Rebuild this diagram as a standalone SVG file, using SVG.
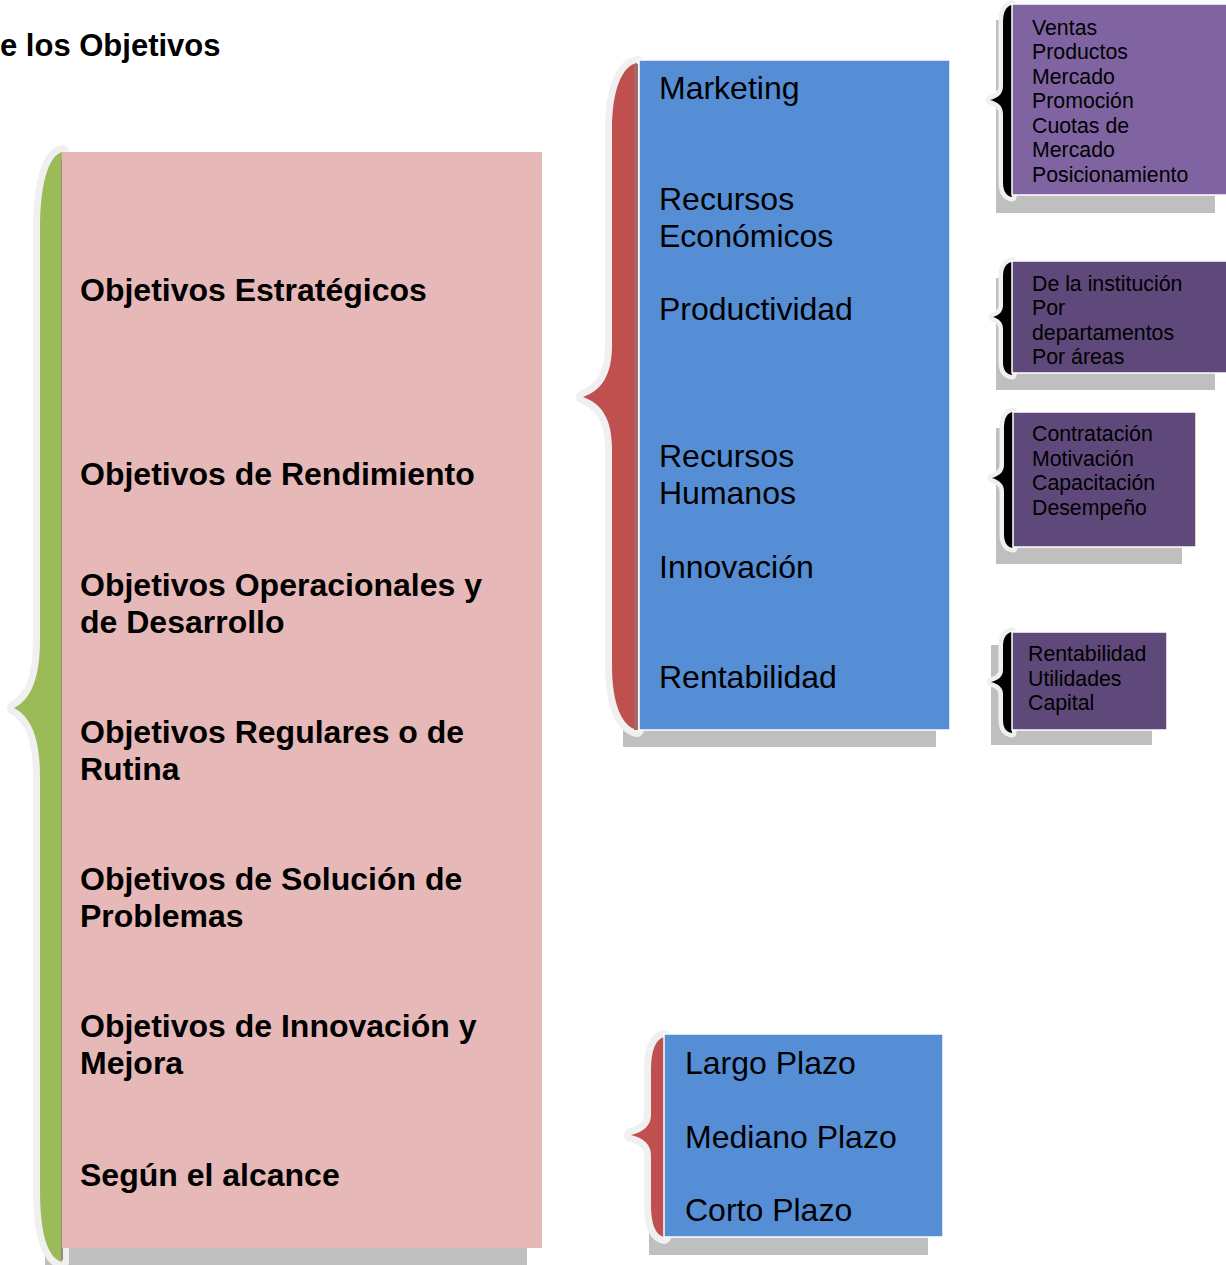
<svg xmlns="http://www.w3.org/2000/svg" width="1226" height="1265" viewBox="0 0 1226 1265">
  <style>
    .shadow { fill: #BFBFBF; }
    .pink { fill: #E6B9B8; }
    .blue { fill: #558ED5; stroke: #ffffff; stroke-width: 1.5; }
    .violet { fill: #8064A2; stroke: #ffffff; stroke-width: 1.5; }
    .plum { fill: #5F497A; stroke: #ffffff; stroke-width: 1.5; }
    .rim { fill: none; stroke: #F0F0F0; stroke-width: 14; stroke-linejoin: round; }
    .rim-s { fill: none; stroke: #F0F0F0; stroke-width: 9; stroke-linejoin: round; }
    .drop { fill: #8E6C6C; opacity: 0.55; }
    .green { fill: #9BBB59; }
    .red { fill: #C0504D; }
    .black { fill: #000000; }
    .bold { font-family: "Liberation Sans", Arial, sans-serif; font-weight: bold; font-size: 32px; fill: #000; }
    .big { font-family: "Liberation Sans", Arial, sans-serif; font-size: 32px; fill: #000; }
    .small { font-family: "Liberation Sans", Arial, sans-serif; font-size: 21.3px; fill: #000; }
  </style>

  <!-- heading -->
  <text class="bold" x="0" y="56" style="font-size:31px">e los Objetivos</text>

  <!-- drop shadows behind boxes -->
  <g id="shadows">
    <rect class="shadow" x="45" y="170" width="482" height="1095"/>
    <rect class="shadow" x="623" y="78" width="313" height="669"/>
    <rect class="shadow" x="649" y="1052" width="279" height="203"/>
    <rect class="shadow" x="996" y="20" width="219" height="193"/>
    <rect class="shadow" x="996" y="278" width="219" height="112"/>
    <rect class="shadow" x="996" y="428" width="186" height="136"/>
    <rect class="shadow" x="991" y="645" width="161" height="100"/>
  </g>

  <!-- braces linking each group to its detail box -->
  <g id="connectors">
    <!-- green brace: types of objectives -->
    <g id="brace-types">
      <path class="drop" transform="translate(3,4)" d="M 62 152 C 48 156, 40 185, 40 230 L 40 640 C 40 680, 30 700, 14 708 C 30 716, 40 736, 40 776 L 40 1190 C 40 1235, 48 1258, 62 1262 Z"/>
      <path class="rim" d="M 62 152 C 48 156, 40 185, 40 230 L 40 640 C 40 680, 30 700, 14 708 C 30 716, 40 736, 40 776 L 40 1190 C 40 1235, 48 1258, 62 1262 Z"/>
      <path class="green" d="M 62 152 C 48 156, 40 185, 40 230 L 40 640 C 40 680, 30 700, 14 708 C 30 716, 40 736, 40 776 L 40 1190 C 40 1235, 48 1258, 62 1262 Z"/>
      <rect x="61" y="160" width="2" height="1100" fill="#9A8A7A"/>
    </g>
    <!-- red brace: strategic areas -->
    <g id="brace-areas">
      <path class="drop" transform="translate(3,4)" d="M 637 63 C 622 66, 612 90, 612 130 L 612 345 C 612 375, 602 390, 583 397 C 602 404, 612 419, 612 449 L 612 665 C 612 705, 622 726, 637 730 Z"/>
      <path class="rim" d="M 637 63 C 622 66, 612 90, 612 130 L 612 345 C 612 375, 602 390, 583 397 C 602 404, 612 419, 612 449 L 612 665 C 612 705, 622 726, 637 730 Z"/>
      <path class="red" d="M 637 63 C 622 66, 612 90, 612 130 L 612 345 C 612 375, 602 390, 583 397 C 602 404, 612 419, 612 449 L 612 665 C 612 705, 622 726, 637 730 Z"/>
      <rect x="634" y="64" width="4" height="666" fill="#A56A68"/>
    </g>
    <!-- red brace: time range -->
    <g id="brace-range">
      <path class="drop" transform="translate(2,4)" d="M 664 1037 C 656 1039, 651 1050, 651 1070 L 651 1115 C 651 1126, 643 1132, 631 1135 C 643 1138, 651 1144, 651 1155 L 651 1205 C 651 1225, 656 1235, 664 1237 Z"/>
      <path class="rim" d="M 664 1037 C 656 1039, 651 1050, 651 1070 L 651 1115 C 651 1126, 643 1132, 631 1135 C 643 1138, 651 1144, 651 1155 L 651 1205 C 651 1225, 656 1235, 664 1237 Z"/>
      <path class="red" d="M 664 1037 C 656 1039, 651 1050, 651 1070 L 651 1115 C 651 1126, 643 1132, 631 1135 C 643 1138, 651 1144, 651 1155 L 651 1205 C 651 1225, 656 1235, 664 1237 Z"/>
    </g>
    <!-- black braces: detail lists -->
    <g id="brace-marketing">
      <path class="rim-s" d="M 1012 5 C 1006 6, 1003 12, 1003 22 L 1003 86 C 1003 94, 998 98, 990 100 C 998 102, 1003 106, 1003 114 L 1003 182 C 1003 191, 1006 196, 1012 197 Z"/>
      <path class="black" d="M 1012 5 C 1006 6, 1003 12, 1003 22 L 1003 86 C 1003 94, 998 98, 990 100 C 998 102, 1003 106, 1003 114 L 1003 182 C 1003 191, 1006 196, 1012 197 Z"/>
    </g>
    <g id="brace-productividad">
      <path class="rim-s" d="M 1012 262 C 1006 263, 1003 268, 1003 276 L 1003 305 C 1003 312, 999 315, 993 317 C 999 319, 1003 322, 1003 329 L 1003 362 C 1003 370, 1006 374, 1012 375 Z"/>
      <path class="black" d="M 1012 262 C 1006 263, 1003 268, 1003 276 L 1003 305 C 1003 312, 999 315, 993 317 C 999 319, 1003 322, 1003 329 L 1003 362 C 1003 370, 1006 374, 1012 375 Z"/>
    </g>
    <g id="brace-humanos">
      <path class="rim-s" d="M 1013 412 C 1007 413, 1004 418, 1004 428 L 1004 465 C 1004 472, 999 476, 992 478 C 999 480, 1004 484, 1004 491 L 1004 534 C 1004 543, 1007 547, 1013 548 Z"/>
      <path class="black" d="M 1013 412 C 1007 413, 1004 418, 1004 428 L 1004 465 C 1004 472, 999 476, 992 478 C 999 480, 1004 484, 1004 491 L 1004 534 C 1004 543, 1007 547, 1013 548 Z"/>
    </g>
    <g id="brace-rentabilidad">
      <path class="rim-s" d="M 1012 632 C 1006 633, 1003 638, 1003 646 L 1003 670 C 1003 677, 998 680, 991 682 C 998 684, 1003 687, 1003 694 L 1003 720 C 1003 728, 1006 732, 1012 733 Z"/>
      <path class="black" d="M 1012 632 C 1006 633, 1003 638, 1003 646 L 1003 670 C 1003 677, 998 680, 991 682 C 998 684, 1003 687, 1003 694 L 1003 720 C 1003 728, 1006 732, 1012 733 Z"/>
    </g>
  </g>

  <!-- types of objectives -->
  <g id="node-types">
    <rect class="pink" x="62" y="152" width="480" height="1096"/>
    <text class="bold" x="80" y="301">Objetivos Estratégicos</text>
    <text class="bold" x="80" y="485">Objetivos de Rendimiento</text>
    <text class="bold" x="80" y="596">Objetivos Operacionales y</text>
    <text class="bold" x="80" y="633">de Desarrollo</text>
    <text class="bold" x="80" y="743">Objetivos Regulares o de</text>
    <text class="bold" x="80" y="780">Rutina</text>
    <text class="bold" x="80" y="890">Objetivos de Solución de</text>
    <text class="bold" x="80" y="927">Problemas</text>
    <text class="bold" x="80" y="1037">Objetivos de Innovación y</text>
    <text class="bold" x="80" y="1074">Mejora</text>
    <text class="bold" x="80" y="1186">Según el alcance</text>
  </g>

  <!-- strategic areas -->
  <g id="node-areas">
    <rect class="blue" x="639" y="60" width="311" height="670"/>
    <text class="big" x="659" y="99">Marketing</text>
    <text class="big" x="659" y="210">Recursos</text>
    <text class="big" x="659" y="247">Económicos</text>
    <text class="big" x="659" y="320">Productividad</text>
    <text class="big" x="659" y="467">Recursos</text>
    <text class="big" x="659" y="504">Humanos</text>
    <text class="big" x="659" y="578">Innovación</text>
    <text class="big" x="659" y="688">Rentabilidad</text>
  </g>

  <!-- time range -->
  <g id="node-range">
    <rect class="blue" x="664" y="1034" width="279" height="203"/>
    <text class="big" x="685" y="1074">Largo Plazo</text>
    <text class="big" x="685" y="1148">Mediano Plazo</text>
    <text class="big" x="685" y="1221">Corto Plazo</text>
  </g>

  <!-- detail lists -->
  <g id="node-marketing">
    <rect class="violet" x="1012" y="4" width="220" height="191"/>
    <text class="small" x="1032" y="35">Ventas</text>
    <text class="small" x="1032" y="59">Productos</text>
    <text class="small" x="1032" y="84">Mercado</text>
    <text class="small" x="1032" y="108">Promoción</text>
    <text class="small" x="1032" y="133">Cuotas de</text>
    <text class="small" x="1032" y="157">Mercado</text>
    <text class="small" x="1032" y="182">Posicionamiento</text>
  </g>

  <g id="node-productividad">
    <rect class="plum" x="1012" y="261" width="220" height="112"/>
    <text class="small" x="1032" y="291">De la institución</text>
    <text class="small" x="1032" y="315">Por</text>
    <text class="small" x="1032" y="340">departamentos</text>
    <text class="small" x="1032" y="364">Por áreas</text>
  </g>

  <g id="node-humanos">
    <rect class="plum" x="1013" y="412" width="183" height="135"/>
    <text class="small" x="1032" y="441">Contratación</text>
    <text class="small" x="1032" y="466">Motivación</text>
    <text class="small" x="1032" y="490">Capacitación</text>
    <text class="small" x="1032" y="515">Desempeño</text>
  </g>

  <g id="node-rentabilidad">
    <rect class="plum" x="1012" y="632" width="155" height="98"/>
    <text class="small" x="1028" y="661">Rentabilidad</text>
    <text class="small" x="1028" y="686">Utilidades</text>
    <text class="small" x="1028" y="710">Capital</text>
  </g>
</svg>
